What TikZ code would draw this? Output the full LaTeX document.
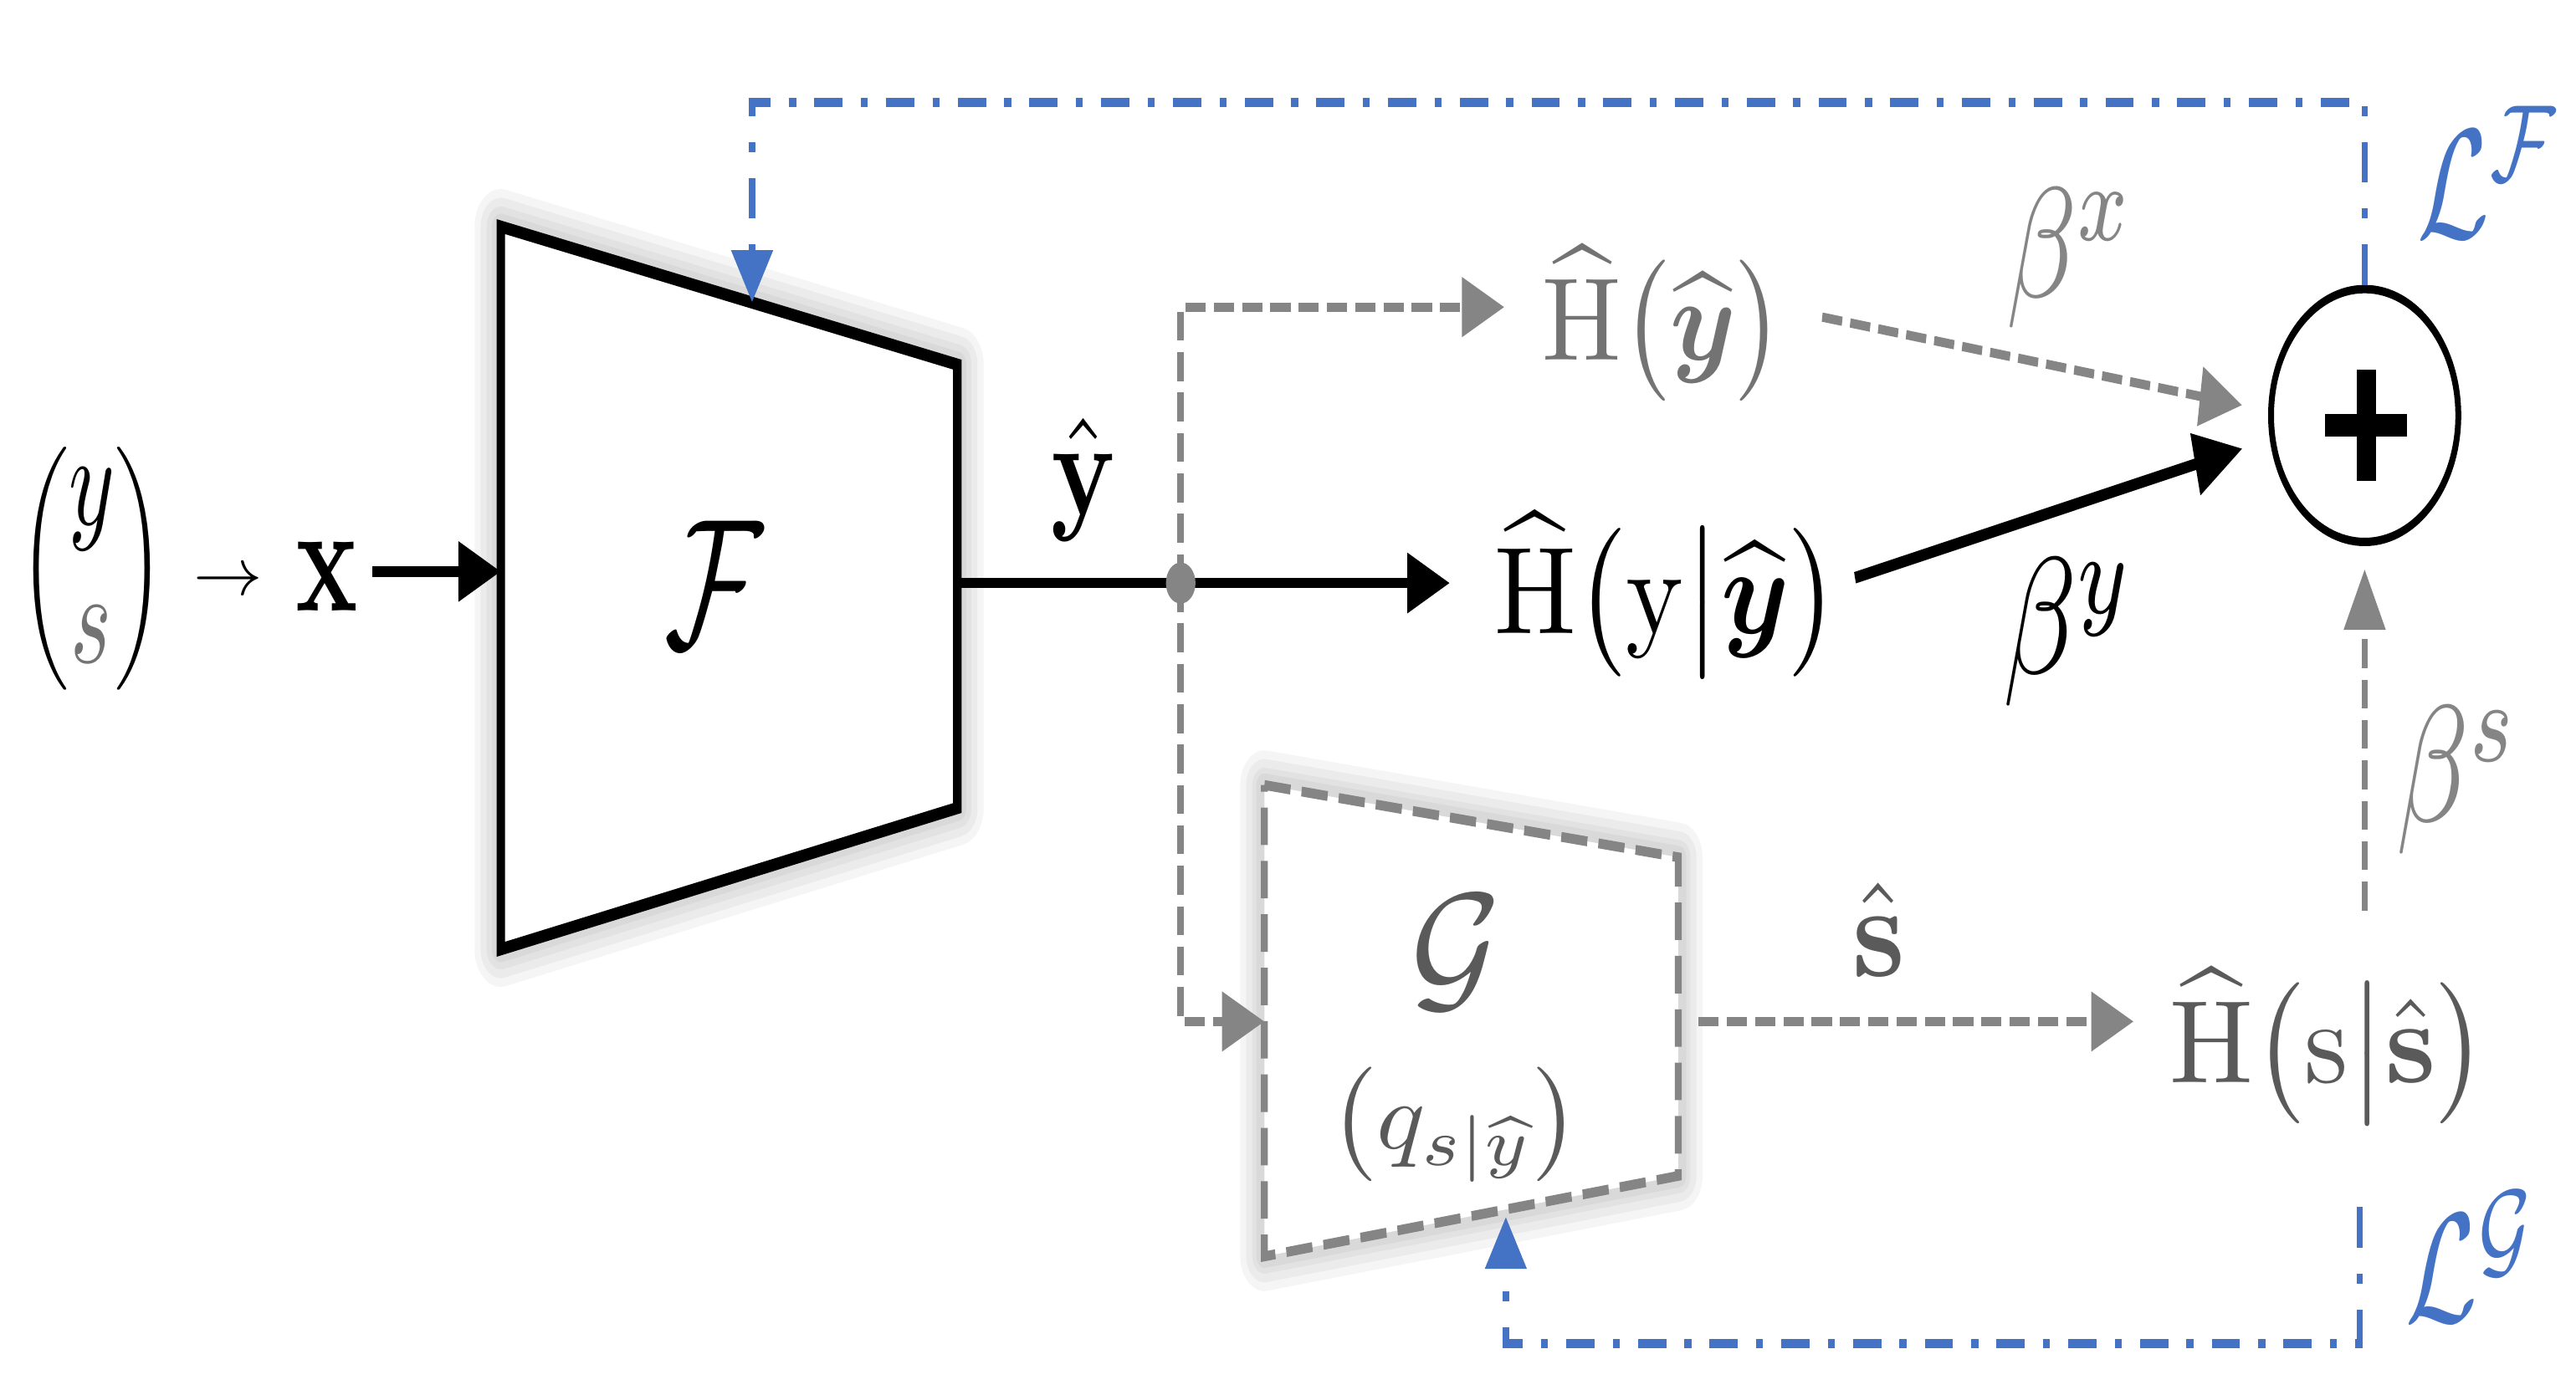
\documentclass[tikz,border=0pt]{standalone}
\usepackage{amsmath,amssymb}
\usepackage{graphicx}
\usetikzlibrary{arrows.meta,shapes.geometric,calc}
\definecolor{oblue}{HTML}{4472C4}
\definecolor{lgray}{HTML}{858585}
\definecolor{mgray}{HTML}{737373}
\definecolor{dgray}{HTML}{5A5A5A}
\newcommand{\fitbox}[3]{\resizebox*{#1cm}{#2cm}{#3}}
\tikzset{
  txt/.style={inner sep=0pt, outer sep=0pt},
  barrow/.style={line width=3.6pt, -{Triangle[length=21pt,width=20pt]}},
  garrow/.style={draw=lgray, line width=3.2pt, dash pattern=on 10pt off 4pt, -{Triangle[length=21pt,width=20pt]}},
  bloop/.style={draw=oblue, line width=3.2pt, dash pattern=on 14pt off 9pt on 3.5pt off 9pt, -{Triangle[length=18pt,width=20pt]}},
  glow/.style={line width=#1, draw=black, opacity=0.04, line join=round},
}
\begin{document}
\begin{tikzpicture}[x=0.02cm,y=-0.02cm]
\useasboundingbox (0,0) rectangle (1568,846);
\begin{scope}[transform canvas={xscale=0.7}, x=0.0285714cm, y=-0.02cm]

% encoder F
\coordinate (F1) at (305,138);
\coordinate (F2) at (583,222);
\coordinate (F3) at (583,492);
\coordinate (F4) at (305,578);
\foreach \w in {26pt,20pt,14pt,9pt}
  \draw[glow=\w, yshift=-2pt] (F1)--(F2)--(F3)--(F4)--cycle;
\draw[line width=4.2pt, line join=miter, fill=white] (F1)--(F2)--(F3)--(F4)--cycle;

% adversary G
\coordinate (G1) at (770,478);
\coordinate (G2) at (1022,522);
\coordinate (G3) at (1022,716);
\coordinate (G4) at (770,765);
\foreach \w in {24pt,18pt,12pt,8pt}
  \draw[glow=\w, yshift=-2pt] (G1)--(G2)--(G3)--(G4)--cycle;
\draw[draw=lgray, fill=white, line width=3.4pt, dash pattern=on 13pt off 5.5pt] (G1)--(G2)--(G3)--(G4)--cycle;

% texts
\node[txt] (vec) at (56,346) {\fitbox{2.514}{2.96}{$\displaystyle\binom{\scalebox{1.3}{$y$}}{\scalebox{1.3}{$\textcolor{mgray}{s}$}}$}};
\node[txt] (arr) at (139,355) {\resizebox{1.2cm}{0.3cm}{$\rightarrow$}};
\node[txt] (xin) at (199,351) {\fitbox{1.086}{0.84}{$\mathbf{x}$}};
\node[txt] (Flab) at (435,356) {\fitbox{1.714}{1.54}{$\mathcal{F}$}};
\node[txt] (yhat) at (660,292) {\fitbox{1.143}{1.5}{$\hat{\mathbf{y}}$}};
\node[txt] (Hy) at (1015,362) {\fitbox{6.0}{2.0}{$\widehat{\mathrm{H}}\bigl(\mathrm{y}\big|\widehat{\boldsymbol{y}}\bigr)$}};
\node[txt, text=mgray] (Hx) at (1013,197) {\fitbox{4.2}{1.9}{$\widehat{\mathrm{H}}\bigl(\widehat{\boldsymbol{y}}\bigr)$}};
\node[txt, text=dgray] (Hs) at (1418,637) {\fitbox{5.514}{1.9}{$\widehat{\mathrm{H}}\bigl(\mathrm{s}\big|\hat{\mathbf{s}}\bigr)$}};
\node[txt, text=dgray] (Glab) at (887,580) {\fitbox{1.571}{1.4}{$\mathcal{G}$}};
\node[txt, text=dgray] (qlab) at (886,685) {\fitbox{4.343}{1.4}{$\bigl(q_{s|\widehat{y}}\bigr)$}};
\node[txt, text=dgray] (shat) at (1144,566) {\fitbox{0.914}{1.14}{$\hat{\mathbf{s}}$}};
\node[txt, text=lgray] (bx) at (1261,157) {\fitbox{2.229}{1.7}{$\beta^{x}$}};
\node[txt] (by) at (1260,385) {\fitbox{2.286}{1.8}{$\beta^{y}$}};
\node[txt, text=lgray] (bs) at (1497,475) {\fitbox{2.143}{1.8}{$\beta^{s}$}};
\node[txt, text=oblue] (LF) at (1516,105) {\fitbox{2.514}{1.6}{$\mathcal{L}^{\mathcal{F}}$}};
\node[txt, text=oblue] (LG) at (1505,765) {\fitbox{2.286}{1.6}{$\mathcal{L}^{\mathcal{G}}$}};
\node[draw, ellipse, line width=2.9pt, minimum width=3.257cm, minimum height=3.08cm, inner sep=0pt] (plus) at (1440,253) {};
\draw[line width=9.7pt] ($(plus)+(1,-28)$) -- ($(plus)+(1,40)$);
\draw[line width=7.7pt] ($(plus)+(-24,6)$) -- ($(plus)+(26,6)$);

% connectors
\coordinate (Fin) at (305,348);
\draw[barrow, shorten <=7pt] (xin.east |- Fin) -- (Fin);

\coordinate (Fout) at (583,355);
\coordinate (j) at (719,355);
\draw[barrow, shorten >=22pt] (Fout) -- (Fout -| Hy.west);

\draw[garrow, shorten >=19pt] (j) |- ([yshift=5.7pt]Hx.west);
\coordinate (Gin) at (770,622);
\draw[garrow] (j) |- (Gin);

\coordinate (Gout) at (1022,622);
\draw[garrow, shorten <=10pt, shorten >=18pt] (Gout) -- (Gout -| Hs.west);

\draw[garrow, shorten <=19pt, shorten >=13pt] ([yshift=5pt]Hx.east) -- ([yshift=1.7pt]plus.west);
\draw[line width=4pt, -{Triangle[length=24pt,width=21pt]}, shorten <=8pt, shorten >=13pt] ([yshift=4pt]Hy.east) -- ([yshift=-8.5pt]plus.west);
\draw[garrow, line width=3.2pt, shorten <=20pt, shorten >=8pt] (plus.south |- Hs.north) -- (plus.south);

\fill[lgray] (j) ellipse[x radius=9, y radius=12.5];

% loss feedback loops
\coordinate (Ftop) at (458,184);
\draw[bloop] (plus.north) -- ++(0,-111) -| (Ftop);
\coordinate (LGs) at (1437,735);
\coordinate (Gbot) at (917,741);
\draw[bloop] (LGs) -- ++(0,83) -| (Gbot);
\end{scope}
\end{tikzpicture}
\end{document}
